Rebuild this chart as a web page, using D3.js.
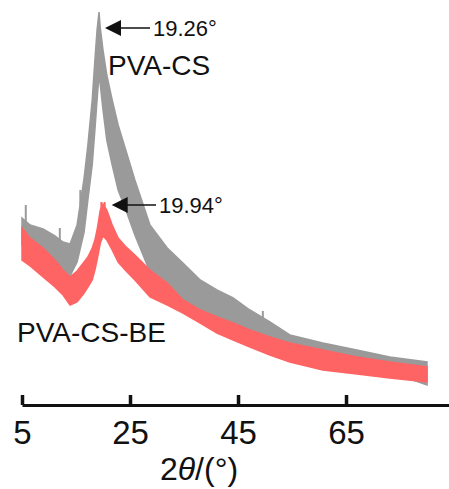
<!DOCTYPE html>
<meta charset="utf-8">
<style>
  body { margin: 0; background: #fff; }
  text { font-family: "Liberation Sans", Arial, Helvetica, sans-serif; fill: #111; }
</style>
<body>
<script src="https://d3js.org/d3.v7.min.js"></script>
<script>
    // 2theta positions (deg) at which the band edges were read
    var twoTheta = [5.0, 6.5, 8.9, 11.1, 12.6, 13.9, 15.2, 16.5, 17.2, 18.0, 18.5, 18.9, 19.26, 19.5, 20.0, 20.7,
        21.7, 22.8, 24.1, 25.9, 28.7, 31.9, 34.8, 38.0, 41.1, 44.1, 47.2, 50.9, 54.6, 60.7, 67.0, 73.1, 80.0];

    // PVA-CS, upper and lower edge of the noisy trace (a.u.)
    var csTop = [1870, 1800, 1760, 1690, 1630, 1610, 1800, 2270, 2600, 3050, 3450, 3750, 3930, 3770, 3550, 3300,
        3050, 2800, 2570, 2250, 1800, 1570, 1420, 1250, 1150, 1070, 950, 830, 700, 620, 550, 480, 430];
    var csBottom = [1600, 1550, 1470, 1390, 1330, 1290, 1430, 1730, 2050, 2400, 2750, 3050, 3300, 3200, 2950, 2650,
        2400, 2150, 1970, 1700, 1330, 1200, 1040, 940, 860, 790, 700, 600, 530, 450, 390, 330, 200];

    // PVA-CS-BE
    var beTop = [1770, 1670, 1570, 1450, 1350, 1280, 1340, 1430, 1480, 1570, 1650, 1750, 1870, 1950, 2010, 1950,
        1800, 1670, 1590, 1500, 1350, 1220, 1050, 950, 880, 820, 750, 680, 620, 550, 480, 430, 380];
    var beBottom = [1450, 1390, 1280, 1180, 1100, 1000, 1030, 1120, 1180, 1250, 1350, 1450, 1550, 1620, 1690, 1650,
        1550, 1430, 1350, 1250, 1080, 1000, 920, 820, 720, 650, 580, 500, 430, 350, 310, 270, 230];

    // isolated noise spikes above each band [2theta, intensity]
    var csSpikes = [[5.7, 2000], [12.0, 1770], [15.8, 2150], [49.6, 940]];
    var beSpikes = [[19.7, 2030], [20.3, 2030]];

    var xTicks = [5, 25, 45, 65];
    var peaks = [
        {label: "19.26°", x: 19.26, y: 3930, name: "PVA-CS"},
        {label: "19.94°", x: 19.94, y: 2010, name: "PVA-CS-BE"}
    ];

    var width = 449,
        height = 489;

    var x = d3.scaleLinear().domain([5, 84.07]).range([22, 449]);
    var y = d3.scaleLinear().domain([0, 4000]).range([405, 5]);

    var svg = d3.select("body").append("svg")
        .attr("width", width)
        .attr("height", height);

    function band(top, bottom) {
        return twoTheta.map(function (t, i) { return {t: t, hi: top[i], lo: bottom[i]}; });
    }

    var area = d3.area()
        .x(d => x(d.t))
        .y0(d => y(d.lo))
        .y1(d => y(d.hi));

    function drawTrace(top, bottom, spikes, colour) {
        svg.append("path")
            .datum(band(top, bottom))
            .attr("fill", colour)
            .attr("stroke", colour)
            .attr("stroke-width", 1.5)
            .attr("d", area);
        var upper = d3.scaleLinear().domain(twoTheta).range(top);
        svg.append("g").selectAll("line")
            .data(spikes)
            .join("line")
            .attr("x1", d => x(d[0])).attr("x2", d => x(d[0]))
            .attr("y1", d => y(upper(d[0])) + 2)
            .attr("y2", d => y(d[1]))
            .attr("stroke", colour)
            .attr("stroke-width", 2);
    }

    drawTrace(csTop, csBottom, csSpikes, "#9a9a9a");
    drawTrace(beTop, beBottom, beSpikes, "#ff6464");

    // x axis, ticks pointing up
    var axis = svg.append("g")
        .attr("transform", "translate(0,405)")
        .call(d3.axisBottom(x).tickValues(xTicks).tickSizeInner(-10).tickSizeOuter(0).tickPadding(16));
    axis.select(".domain").attr("stroke", "#111").attr("stroke-width", 3);
    axis.selectAll(".tick line").attr("stroke", "#111").attr("stroke-width", 3.5);
    axis.selectAll(".tick text")
        .attr("font-size", 33)
        .attr("font-family", "'Liberation Sans', Arial, sans-serif")
        .attr("fill", "#111");

    var title = svg.append("text")
        .attr("x", 199)
        .attr("y", 480)
        .attr("text-anchor", "middle")
        .attr("font-size", 32);
    title.append("tspan").text("2");
    title.append("tspan").attr("font-style", "italic").text("θ");
    title.append("tspan").text("/(°)");

    // peak annotations
    var offsets = [{ax: 6, dy: 16, tx: 153, ty: 36, nx: 108, ny: 75}, {ax: 9, dy: 1, tx: 159, ty: 213, nx: 17, ny: 342}];

    peaks.forEach(function (p, i) {
        var o = offsets[i];
        var px = x(p.x) + o.ax, py = y(p.y) + o.dy;
        svg.append("line")
            .attr("x1", o.tx - 3).attr("y1", py)
            .attr("x2", px + 12).attr("y2", py)
            .attr("stroke", "#111").attr("stroke-width", 1.3);
        svg.append("path")
            .attr("d", "M" + px + "," + py + "L" + (px + 16) + "," + (py - 8) + "L" + (px + 16) + "," + (py + 8) + "Z")
            .attr("fill", "#111");
        svg.append("text")
            .attr("x", o.tx).attr("y", o.ty)
            .attr("font-size", 22)
            .text(p.label);
        svg.append("text")
            .attr("x", o.nx).attr("y", o.ny)
            .attr("font-size", 28)
            .text(p.name);
    });
</script>
</body>
</html>
